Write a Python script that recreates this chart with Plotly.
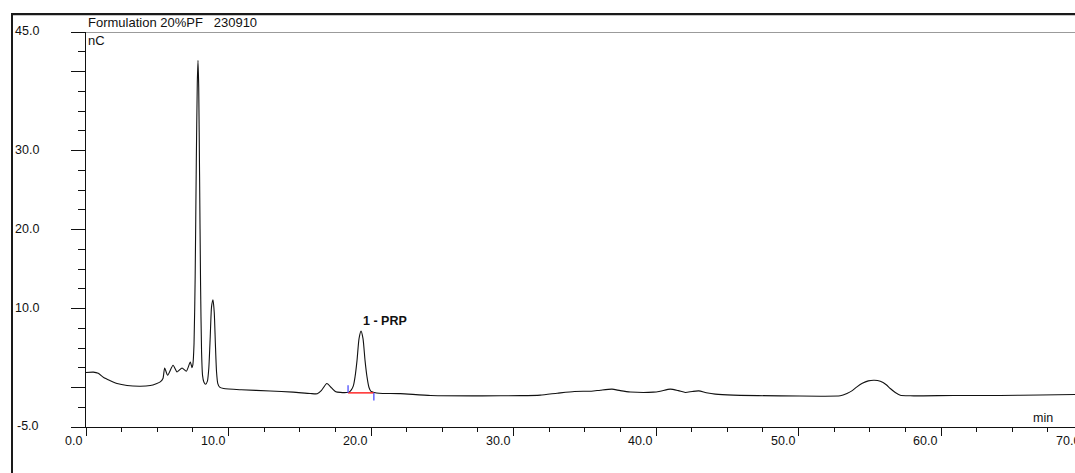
import plotly.graph_objects as go

# ---------------- data ----------------
TIME = [0.00, 0.51, 0.86, 1.24, 1.71, 2.18, 2.88, 3.81, 4.51, 4.93, 5.21, 5.40, 5.52, 5.73,
        6.11, 6.39, 6.74, 7.04, 7.32, 7.44,
        7.50, 7.58, 7.66, 7.74, 7.81, 7.86, 7.91, 7.97, 8.04, 8.11, 8.18, 8.27, 8.40,
        8.52, 8.62, 8.72, 8.81, 8.91, 9.00, 9.08, 9.16, 9.25, 9.38, 9.66,
        10.90, 12.93, 14.53, 15.74, 16.23, 16.51, 16.90, 17.25, 17.53, 17.85, 18.27,
        18.45, 18.62, 18.76, 18.88, 19.02, 19.16, 19.30, 19.44, 19.58, 19.72, 19.86, 20.00, 20.23,
        20.57, 22.06, 24.19, 27.81, 30.48, 31.88, 33.07, 34.27, 35.46, 36.09, 36.91, 37.49,
        38.20, 39.81, 40.30, 41.00, 41.57, 42.06, 42.55, 43.00, 43.53, 44.16, 45.42, 48.72,
        51.53, 52.93, 53.40, 53.77, 54.10, 54.48, 54.90, 55.32, 55.74, 56.16, 56.44, 56.79,
        57.14, 57.84, 60.86, 64.16, 66.97, 70.00]
SIGNAL = [1.89, 1.95, 1.80, 1.26, 0.86, 0.50, 0.25, 0.16, 0.25, 0.48, 0.71, 1.13, 2.47, 1.55,
          2.81, 1.97, 2.47, 2.06, 3.23, 2.50,
          2.90, 5.50, 14.0, 28.5, 38.5, 41.4, 38.0, 27.0, 13.0, 4.50, 1.50, 0.70, 0.42,
          0.80, 2.50, 6.50, 10.2, 11.1, 9.50, 5.50, 2.00, 0.50, 0.05, -0.13,
          -0.29, -0.44, -0.59, -0.76, -0.79, -0.40, 0.50, -0.09, -0.53, -0.62, -0.64,
          -0.60, -0.30, 0.20, 1.34, 3.44, 6.18, 7.14, 6.18, 3.44, 1.34, 0.00, -0.50, -0.63,
          -0.72, -0.78, -1.01, -1.06, -1.03, -0.96, -0.72, -0.50, -0.47, -0.34, -0.21, -0.40,
          -0.57, -0.59, -0.47, -0.21, -0.40, -0.63, -0.50, -0.43, -0.66, -0.84, -0.97, -1.06,
          -1.10, -1.05, -0.76, -0.40, 0.08, 0.54, 0.84, 0.92, 0.79, 0.35, -0.13, -0.63,
          -0.97, -1.05, -1.01, -1.01, -0.95, -0.88]

PEAK_NAMES = ["1 - PRP"]
PEAK_APEX_T = [19.30]
PEAK_APEX_V = [7.14]
PEAK_START_T = [18.39]
PEAK_END_T = [20.20]
PEAK_BASE_V = [-0.68]

X_TICKS = [0, 10, 20, 30, 40, 50, 60, 70]
X_LABELS = [0.0, 10.0, 20.0, 30.0, 40.0, 50.0, 60.0, 70.0]
Y_TICKS = [-5, 0, 10, 20, 30, 40, 45]
Y_LABELS = [45.0, 30.0, 20.0, 10.0, -5.0]

TITLE = "Formulation 20%PF\u00a0\u00a0\u00a0230910"
Y_UNIT = "nC"
X_UNIT = "min"

# ---------------- layout geometry (pixels of the 1075x473 page) ----------------
W_FIG, H_FIG = 1075, 473
L, T = 86, 32           # plot area left / top
PW, PH = 989, 395       # plot area width / height
PX_PER_MIN = 14.25
X_MAX = PW / PX_PER_MIN
Y_RANGE = [-5, 45]
FONT = "Liberation Sans, Arial, Helvetica, sans-serif"
DELIM_LEN = 0.95
FRAME_COLOR = "#1a1a1a"
FRAME_X, FRAME_Y = 12, 14.3


def px_x(px):
    # paper covers the whole page (zero margins)
    return px / W_FIG


def px_y(py):
    return (H_FIG - py) / H_FIG


fig = go.Figure()
fig.add_trace(go.Scatter(x=TIME, y=SIGNAL, mode="lines",
                         line=dict(color="#111111", width=1.1, shape="spline", smoothing=0.6),
                         hoverinfo="skip", showlegend=False))

for i, name in enumerate(PEAK_NAMES):
    fig.add_trace(go.Scatter(x=[PEAK_START_T[i], PEAK_END_T[i]], y=[PEAK_BASE_V[i], PEAK_BASE_V[i]],
                             mode="lines", line=dict(color="#ff1a1a", width=1.4),
                             hoverinfo="skip", showlegend=False))
    fig.add_trace(go.Scatter(x=[PEAK_START_T[i], PEAK_START_T[i]],
                             y=[PEAK_BASE_V[i], PEAK_BASE_V[i] + DELIM_LEN],
                             mode="lines", line=dict(color="#5a5aff", width=1.4),
                             hoverinfo="skip", showlegend=False))
    fig.add_trace(go.Scatter(x=[PEAK_END_T[i], PEAK_END_T[i]],
                             y=[PEAK_BASE_V[i], PEAK_BASE_V[i] - DELIM_LEN],
                             mode="lines", line=dict(color="#5a5aff", width=1.4),
                             hoverinfo="skip", showlegend=False))

# helper subplot whose axis lines form the outer frame (left and top edges)
fig.add_trace(go.Scatter(x=[0, 1], y=[0, 1], xaxis="x2", yaxis="y2", mode="lines",
                         line=dict(width=0), opacity=0, hoverinfo="skip", showlegend=False))

annotations = []
annotations.append(dict(text=TITLE, xref="paper", yref="paper", x=px_x(86), y=px_y(22.5),
                        xanchor="left", yanchor="middle", showarrow=False,
                        font=dict(family=FONT, size=13, color="#111111")))
annotations.append(dict(text=Y_UNIT, xref="paper", yref="paper", x=px_x(86), y=px_y(41),
                        xanchor="left", yanchor="middle", showarrow=False,
                        font=dict(family=FONT, size=13, color="#111111")))
annotations.append(dict(text=X_UNIT, xref="paper", yref="paper", x=px_x(1043), y=px_y(418),
                        xanchor="center", yanchor="middle", showarrow=False,
                        font=dict(family=FONT, size=12.5, color="#111111")))
for v in Y_LABELS:
    annotations.append(dict(text=f"{v:.1f}", xref="paper", yref="y", x=px_x(41), y=v,
                            xanchor="right", yanchor="middle", yshift=1, showarrow=False,
                            font=dict(family=FONT, size=12.5, color="#111111")))
for v in X_LABELS:
    annotations.append(dict(text=f"{v:.1f}", xref="paper", yref="paper",
                            x=px_x(L + v * PX_PER_MIN), y=px_y(441),
                            xanchor="right", yanchor="middle", xshift=-2,
                            showarrow=False, font=dict(family=FONT, size=12.5, color="#111111")))
for i, name in enumerate(PEAK_NAMES):
    annotations.append(dict(text=f"<b>{name}</b>", xref="x", yref="y", x=PEAK_APEX_T[i],
                            y=PEAK_APEX_V[i], xanchor="left", yanchor="bottom", yshift=1,
                            showarrow=False, font=dict(family=FONT, size=12.5, color="#111111")))

shapes = [
    # outer frame (left and top) in paper coordinates, all inside [0, 1]
    dict(type="line", xref="paper", yref="paper", x0=px_x(FRAME_X), x1=px_x(FRAME_X),
         y0=0, y1=px_y(FRAME_Y - 1), line=dict(color=FRAME_COLOR, width=2), layer="above"),
    dict(type="line", xref="paper", yref="paper", x0=px_x(FRAME_X - 1), x1=1,
         y0=px_y(FRAME_Y), y1=px_y(FRAME_Y), line=dict(color=FRAME_COLOR, width=2), layer="above"),
    # top line at the axis maximum
    dict(type="line", xref="paper", yref="y", x0=px_x(L), x1=1,
         y0=Y_RANGE[1], y1=Y_RANGE[1], line=dict(color="#7a7a7a", width=1.5)),
]

fig.update_layout(
    width=W_FIG, height=H_FIG,
    margin=dict(l=0, r=0, t=0, b=0, pad=0, autoexpand=False),
    plot_bgcolor="rgba(0,0,0,0)", paper_bgcolor="white",
    showlegend=False,
    annotations=annotations,
    shapes=shapes,
    xaxis=dict(domain=[px_x(L), px_x(L + PW)], range=[0, X_MAX], anchor="y",
               showline=True, linecolor="#111111", linewidth=1,
               ticks="outside", ticklen=8, tickwidth=1, tickcolor="#111111",
               tickmode="array", tickvals=X_TICKS, showticklabels=False,
               showgrid=False, zeroline=False, fixedrange=True,
               minor=dict(ticks="outside", ticklen=4, tickwidth=1, tickcolor="#111111",
                          dtick=2.5, tick0=0, showgrid=False)),
    yaxis=dict(domain=[px_y(T + PH), px_y(T)], range=Y_RANGE, anchor="x",
               showline=True, linecolor="#111111", linewidth=1,
               ticks="outside", ticklen=14, tickwidth=1, tickcolor="#111111",
               tickmode="array", tickvals=Y_TICKS, showticklabels=False,
               showgrid=False, zeroline=False, fixedrange=True,
               minor=dict(ticks="outside", ticklen=7, tickwidth=1, tickcolor="#111111",
                          dtick=2.5, tick0=-5, showgrid=False)),
    xaxis2=dict(domain=[px_x(FRAME_X - 1), 1], anchor="free", position=px_y(FRAME_Y),
                side="top", showline=True, linecolor=FRAME_COLOR, linewidth=2,
                ticks="", showticklabels=False, showgrid=False, zeroline=False,
                fixedrange=True),
    yaxis2=dict(domain=[0, px_y(FRAME_Y - 1)], anchor="free", position=px_x(FRAME_X),
                side="left", showline=True, linecolor=FRAME_COLOR, linewidth=2,
                ticks="", showticklabels=False, showgrid=False, zeroline=False,
                fixedrange=True),
)

fig.write_html("out.html", config={"displayModeBar": False},
               post_script="document.body.style.margin='0';document.body.style.overflow='hidden';")
